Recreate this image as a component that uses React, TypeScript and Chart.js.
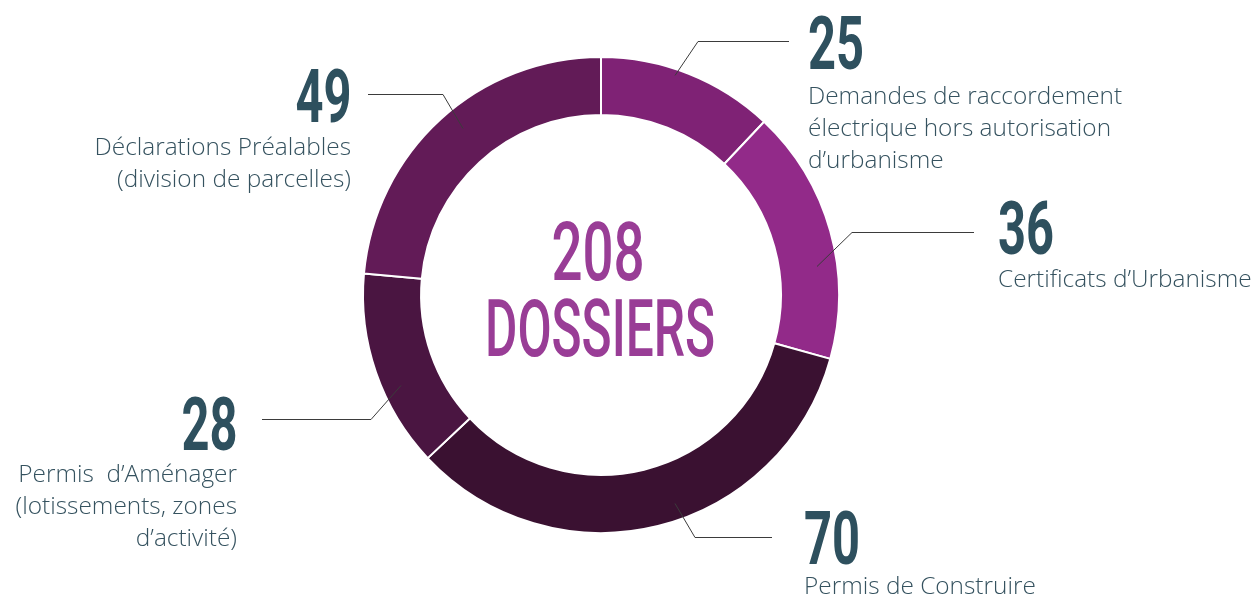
import React, { useEffect, useRef } from "react";
import { Chart, registerables } from "chart.js";

Chart.register(...registerables);

// ---- data ----
const categories = [
  "Demandes de raccordement électrique hors autorisation d’urbanisme",
  "Certificats d’Urbanisme",
  "Permis de Construire",
  "Permis d’Aménager (lotissements, zones d’activité)",
  "Déclarations Préalables (division de parcelles)",
];
const values = [25, 36, 70, 28, 49];
const colors = ["#7f2275", "#922a89", "#3a1131", "#4a1541", "#621b57"];
const labelLines = [
  ["Demandes de raccordement", "électrique hors autorisation", "d’urbanisme"],
  ["Certificats d’Urbanisme"],
  ["Permis de Construire"],
  ["Permis\u00a0 d’Aménager", "(lotissements, zones", "d’activité)"],
  ["Déclarations Préalables", "(division de parcelles)"],
];
const totalCaption = "DOSSIERS";

// ---- layout (positions of annotations / callouts) ----
type Lay = {
  align: "left" | "right";
  x: number;
  numBase: number;
  textBase: number;
  lineY: number;
  elbowX: number;
  endX: number;
  diagDx: number;
};
const layouts: Lay[] = [
  { align: "left", x: 808, numBase: 70, textBase: 104, lineY: 41, elbowX: 698, endX: 789, diagDx: 23 },
  { align: "left", x: 998, numBase: 255, textBase: 287, lineY: 232, elbowX: 852, endX: 974, diagDx: 35 },
  { align: "left", x: 804, numBase: 565, textBase: 594, lineY: 537, elbowX: 695, endX: 772, diagDx: 20 },
  { align: "right", x: 237, numBase: 451, textBase: 482, lineY: 419, elbowX: 371, endX: 262, diagDx: -30 },
  { align: "right", x: 351, numBase: 123, textBase: 155, lineY: 94, elbowX: 443, endX: 368, diagDx: -20 },
];
const DIAG_DY = 34;

const W = 1258;
const H = 599;

const ROBOTO_A = 0.927734;
const ROBOTO_D = 0.244141;
const OPEN_A = 1.069;
const OPEN_D = 0.293;

function baselineOffset(lh: number, fs: number, a: number, d: number) {
  return (lh - (a + d) * fs) / 2 + a * fs;
}

const leaderPlugin = {
  id: "leaders",
  afterDatasetsDraw(chart: any) {
    const meta = chart.getDatasetMeta(0);
    const ctx = chart.ctx as CanvasRenderingContext2D;
    ctx.save();
    ctx.strokeStyle = "#3b3b3b";
    ctx.lineWidth = 1;
    meta.data.forEach((arc: any, i: number) => {
      const L = layouts[i];
      if (!L) return;
      const p = arc.getProps(["x", "y"], true);
      const ey = L.lineY + 0.5;
      const sy = ey + DIAG_DY * Math.sign(p.y - ey);
      const sx = L.elbowX - L.diagDx;
      ctx.beginPath();
      ctx.moveTo(sx, sy);
      ctx.lineTo(L.elbowX, ey);
      ctx.lineTo(L.endX, ey);
      ctx.stroke();
    });
    ctx.restore();
  },
};

const NUM_FS = 74.5;
const NUM_SCALE = 0.655;
const TXT_FS = 24.4;
const TXT_LH = 32;

export default function App() {
  const canvasRef = useRef<HTMLCanvasElement | null>(null);

  useEffect(() => {
    if (!canvasRef.current) return;
    const chart = new Chart(canvasRef.current, {
      type: "doughnut",
      data: {
        labels: categories,
        datasets: [
          {
            data: values,
            backgroundColor: colors,
            borderColor: "#ffffff",
            borderWidth: 2,
          },
        ],
      },
      options: {
        responsive: false,
        animation: false,
        devicePixelRatio: 1,
        cutout: "75.6%",
        rotation: 0,
        layout: { padding: { left: 362, right: 418, top: 56, bottom: 65 } },
        plugins: {
          legend: { display: false },
          tooltip: { enabled: false },
        },
      },
      plugins: [leaderPlugin],
    } as any);
    return () => chart.destroy();
  }, []);

  const total = values.reduce((a, b) => a + b, 0);
  const numTopOff = baselineOffset(NUM_FS, NUM_FS, ROBOTO_A, ROBOTO_D);
  const txtTopOff = baselineOffset(TXT_LH, TXT_FS, OPEN_A, OPEN_D);

  const c1 = 81.6;
  const c2 = 79;

  return (
    <div
      style={{
        position: "absolute",
        left: 0,
        top: 0,
        width: W,
        height: H,
        background: "#ffffff",
        overflow: "hidden",
      }}
    >
      <canvas ref={canvasRef} width={W} height={H} style={{ position: "absolute", left: 0, top: 0 }} />
      {/* center */}
      <div
        style={{
          position: "absolute",
          left: 598,
          top: 281 - baselineOffset(c1, c1, ROBOTO_A, ROBOTO_D),
          fontFamily: "Roboto",
          fontWeight: 500,
          fontSize: c1,
          lineHeight: `${c1}px`,
          color: "#993d96",
          whiteSpace: "nowrap",
          transform: "scaleX(0.67) translateX(-50%)",
          transformOrigin: "0 0",
        }}
      >
        {total}
      </div>
      <div
        style={{
          position: "absolute",
          left: 600,
          top: 357 - baselineOffset(c2, c2, ROBOTO_A, ROBOTO_D),
          fontFamily: "Roboto",
          fontWeight: 500,
          fontSize: c2,
          lineHeight: `${c2}px`,
          color: "#993d96",
          whiteSpace: "nowrap",
          transform: "scaleX(0.628) translateX(-50%)",
          transformOrigin: "0 0",
        }}
      >
        {totalCaption}
      </div>
      {layouts.map((L, i) => {
        const horiz: any =
          L.align === "left" ? { left: L.x } : { right: W - L.x };
        return (
          <React.Fragment key={i}>
            <div
              style={{
                position: "absolute",
                ...horiz,
                top: L.numBase - numTopOff,
                fontFamily: "Roboto",
                fontWeight: 700,
                fontSize: NUM_FS,
                lineHeight: `${NUM_FS}px`,
                color: "#2e505e",
                whiteSpace: "nowrap",
                transform: `scaleX(${NUM_SCALE})`,
                transformOrigin: L.align === "left" ? "left top" : "right top",
              }}
            >
              {values[i]}
            </div>
            <div
              style={{
                position: "absolute",
                ...horiz,
                top: L.textBase - txtTopOff,
                fontFamily: "'Open Sans'",
                fontWeight: 300,
                fontSize: TXT_FS,
                lineHeight: `${TXT_LH}px`,
                color: "#35525f",
                whiteSpace: "nowrap",
                textAlign: L.align,
              }}
            >
              {labelLines[i].map((t, j) => (
                <div key={j}>{t}</div>
              ))}
            </div>
          </React.Fragment>
        );
      })}
    </div>
  );
}
